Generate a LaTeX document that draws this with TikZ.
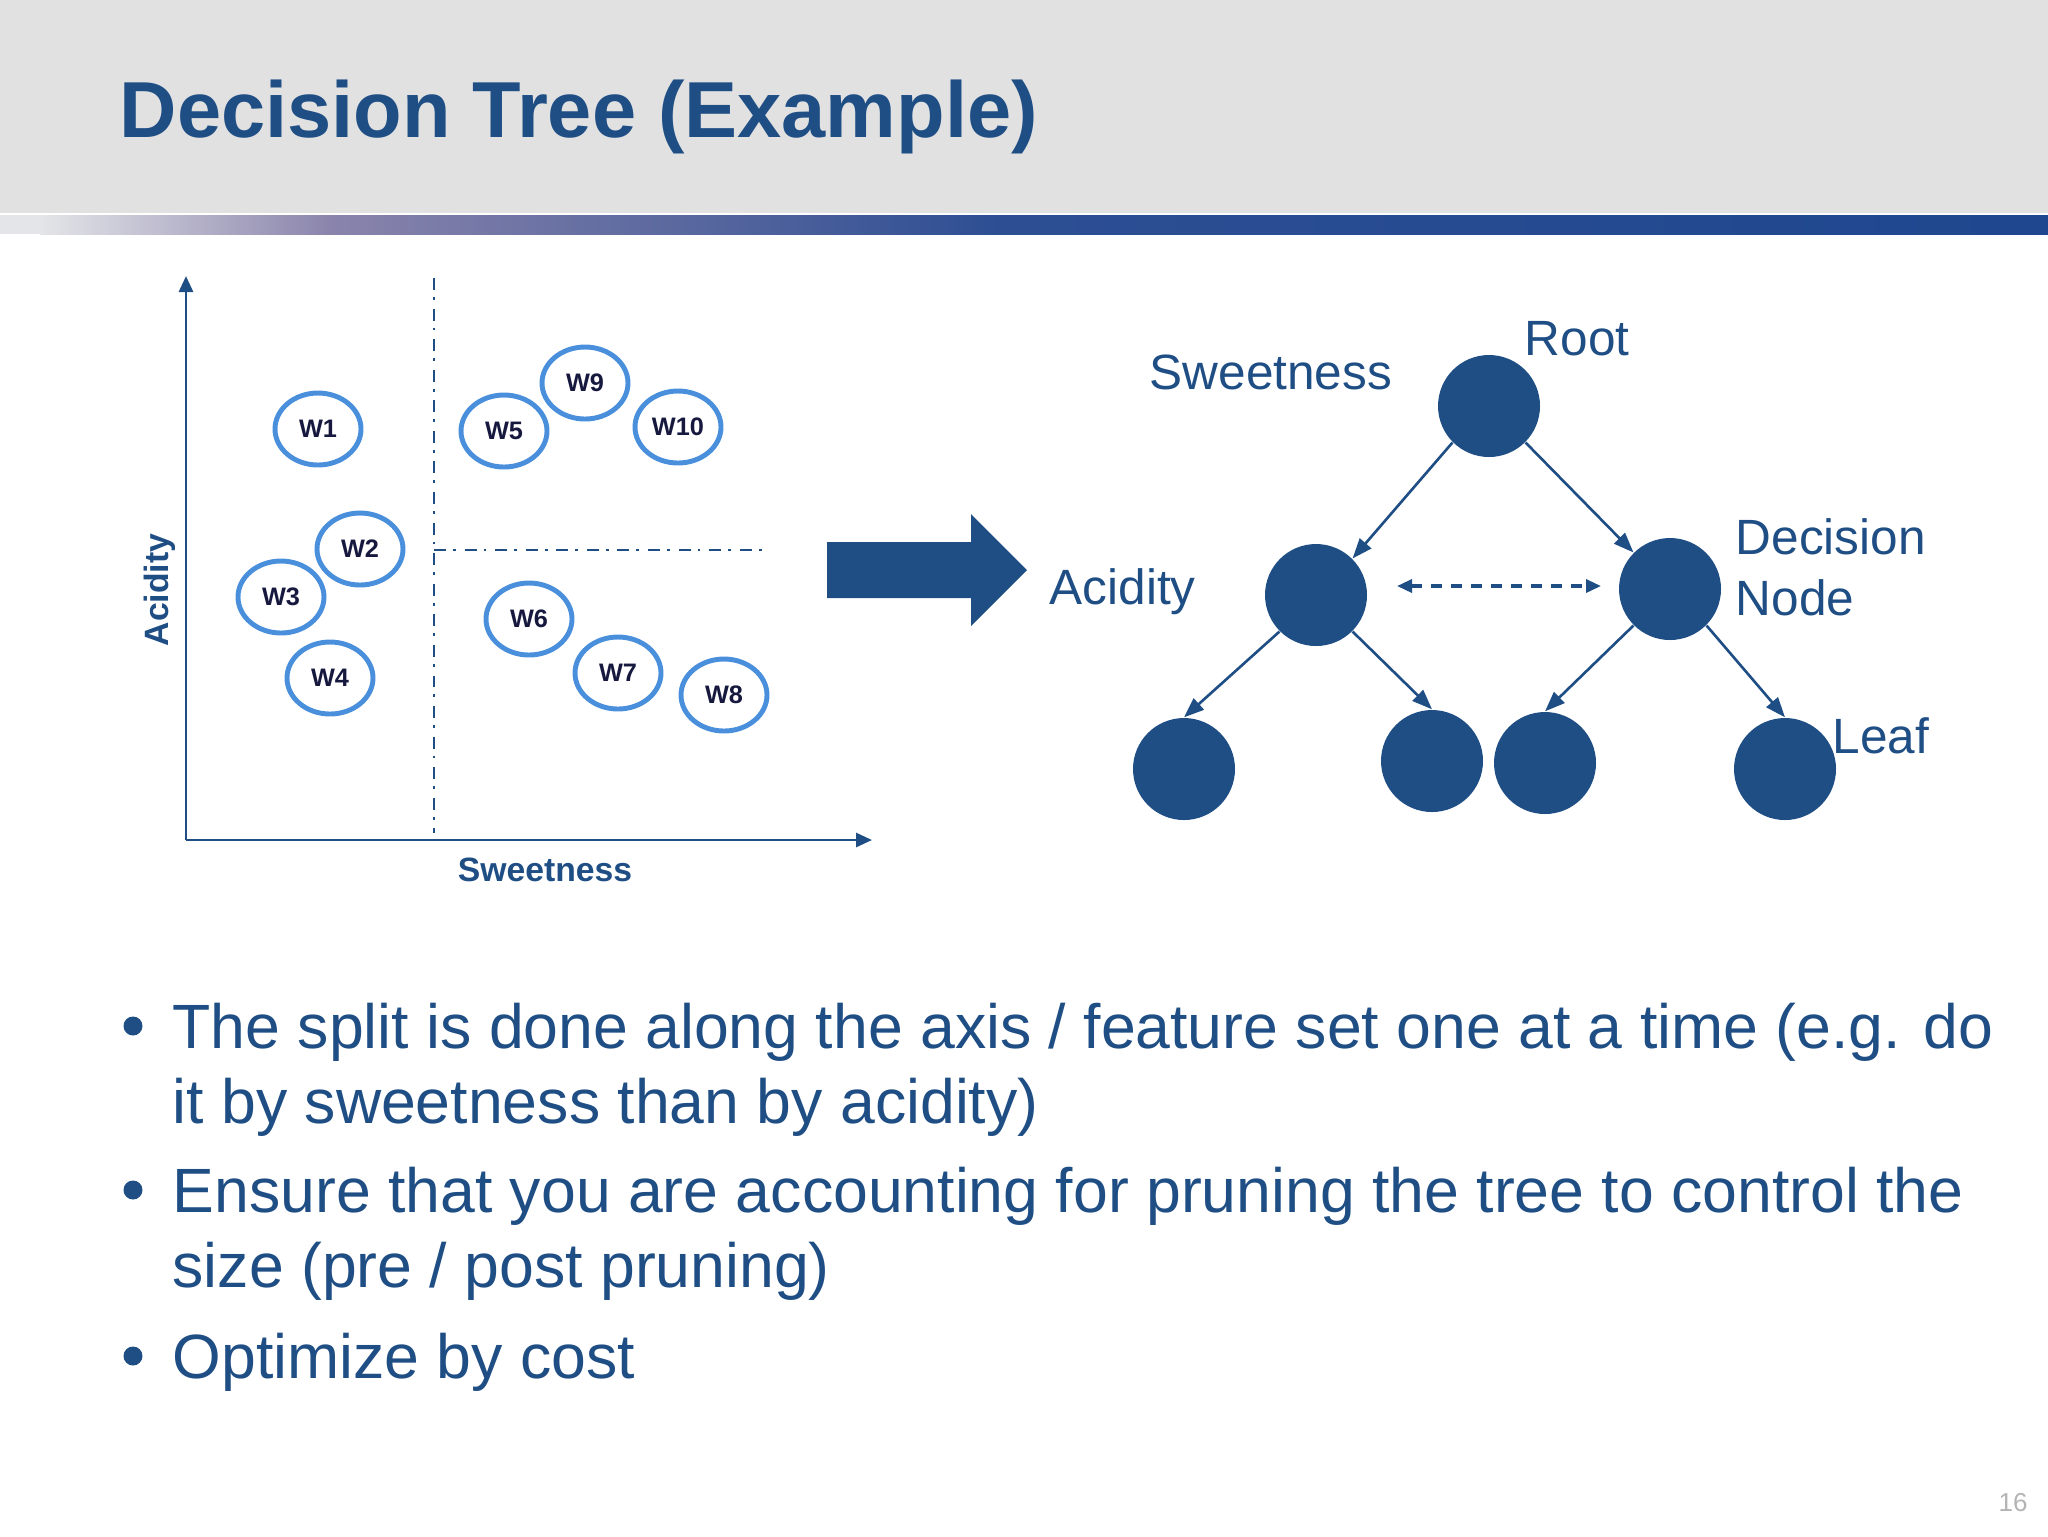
\documentclass[tikz,border=0pt]{standalone}
\usepackage{fontspec}
\setmainfont{Liberation Sans}
\usetikzlibrary{arrows.meta, positioning, shapes.geometric}

\definecolor{slideblue}{HTML}{1F4E85}
\definecolor{pointblue}{HTML}{4A8FDB}
\definecolor{headgray}{HTML}{E1E1E1}
\definecolor{labelnavy}{HTML}{16183E}
\definecolor{pagegray}{HTML}{B4B4B4}
\definecolor{barlight}{HTML}{E4E5E8}
\definecolor{barpurple}{HTML}{8A84AC}
\definecolor{barmid}{HTML}{2D4E93}
\definecolor{bardark}{HTML}{1E478F}

\begin{document}
\begin{tikzpicture}[
    % one unit = one pixel of the slide
    x=0.1mm, y=-0.1mm,
    wpoint/.style={ellipse, draw=pointblue, line width=1.4pt, minimum width=8.6mm,
        minimum height=7.2mm, inner sep=0pt, text=labelnavy,
        font=\bfseries\fontsize{7.2}{8}\selectfont},
    treenode/.style={circle, fill=slideblue, minimum size=10.2mm, inner sep=0pt},
    treelabel/.style={anchor=base west, inner sep=0pt, text=slideblue,
        font=\fontsize{14.1}{17}\selectfont},
    bulletline/.style={anchor=base west, inner sep=0pt, text=slideblue,
        font=\fontsize{17.8}{21}\selectfont},
    bulletdot/.style={circle, fill=slideblue, minimum size=1.9mm, inner sep=0pt},
    axislabel/.style={inner sep=0pt, text=slideblue,
        font=\bfseries\fontsize{9.6}{11}\selectfont},
    splitline/.style={slideblue, line width=0.6pt,
        dash pattern=on 3.4pt off 2pt on 0.8pt off 2.5pt},
    treearrow/.style={-{Triangle[length=2mm, width=1.5mm]}, slideblue, line width=0.75pt}
]
    \useasboundingbox (0,0) rectangle (2048,1536);

    % --- Header ---
    \fill[headgray] (0,0) rectangle (2048,213);
    \fill[barlight] (0,215) rectangle (41,234);
    \shade[left color=barlight, right color=barpurple] (40,215) rectangle (331,234);
    \shade[left color=barpurple, right color=barmid] (330,215) rectangle (1001,234);
    \shade[left color=barmid, right color=bardark] (1000,215) rectangle (2048,234);
    \node[anchor=base west, inner sep=0pt, text=slideblue,
        font=\bfseries\fontsize{22.6}{26}\selectfont] (title) at (119,137)
        {Decision Tree (Example)};

    % --- Scatter plot ---
    \coordinate (origin) at (186,840);
    \coordinate (ytop) at (186,276);
    \coordinate (xend) at (872,840);
    \draw[slideblue, line width=0.8pt, -{Triangle[length=1.6mm, width=1.4mm]}] (origin) -- (ytop);
    \draw[slideblue, line width=0.8pt, -{Triangle[length=1.6mm, width=1.4mm]}] (origin) -- (xend);
    \node[axislabel, anchor=base] (xlab) at (545,881) {Sweetness};
    \node[axislabel, anchor=base, rotate=90] (ylab) at (168,590) {Acidity};

    \coordinate (vtop) at (434,278);
    \coordinate (vbot) at (434,833);
    \coordinate (hleft) at (434,550);
    \coordinate (hright) at (768,550);
    \draw[splitline] (vtop) -- (vbot);
    \draw[splitline] (hleft) -- (hright);

    \foreach \nm/\px/\py in {W1/318/429, W2/360/549, W3/281/597, W4/330/678,
        W5/504/431, W9/585/383, W10/678/427, W6/529/619, W7/618/673, W8/724/695}
        \node[wpoint] (\nm) at (\px,\py) {\nm};

    % --- Big arrow ---
    \fill[slideblue] (827,542) -- (971,542) -- (971,514) -- (1027,570)
        -- (971,626) -- (971,598) -- (827,598) -- cycle;

    % --- Tree ---
    \node[treenode] (root) at (1489,406) {};
    \node[treenode] (nleft) at (1316,595) {};
    \node[treenode] (nright) at (1670,589) {};
    \node[treenode] (lf1) at (1184,769) {};
    \node[treenode] (lf2) at (1432,761) {};
    \node[treenode] (lf3) at (1545,763) {};
    \node[treenode] (lf4) at (1785,769) {};

    \draw[treearrow] (root.-135) -- (nleft.45);
    \draw[treearrow] (root.-45) -- (nright.135);
    \draw[treearrow] (nleft.-135) -- (lf1.north);
    \draw[treearrow] (nleft.-45) -- (lf2.north);
    \draw[treearrow] (nright.-135) -- (lf3.north);
    \draw[treearrow] (nright.-45) -- (lf4.north);

    \coordinate (dl) at (1397,586);
    \coordinate (dr) at (1601,586);
    \draw[slideblue, line width=0.95pt, dash pattern=on 3.1pt off 2.6pt,
        {Triangle[length=1.5mm, width=1.3mm]}-{Triangle[length=1.5mm, width=1.3mm]}] (dl) -- (dr);

    \node[treelabel] (lroot) at (1524,355) {Root};
    \node[treelabel] (lsweet) at (1149,389) {Sweetness};
    \node[treelabel] (lacid) at (1049,604) {Acidity};
    \node[treelabel] (ldec) at (1735,554) {Decision};
    \node[treelabel] (lnode) at (1735,615) {Node};
    \node[treelabel] (lleaf) at (1832,753) {Leaf};

    % --- Bullets ---
    \node[bulletdot] (d1) at (133,1026) {};
    \node[bulletdot] (d2) at (133,1190) {};
    \node[bulletdot] (d3) at (133,1356) {};
    \node[bulletline] (b1a) at (172,1048)
        {The split is done along the axis / feature set one at a time (e.g. do};
    \node[bulletline] (b1b) at (172,1123) {it by sweetness than by acidity)};
    \node[bulletline] (b2a) at (172,1212)
        {Ensure that you are accounting for pruning the tree to control the};
    \node[bulletline] (b2b) at (172,1287) {size (pre / post pruning)};
    \node[bulletline] (b3) at (172,1378) {Optimize by cost};

    % --- Page number ---
    \node[anchor=base west, inner sep=0pt, text=pagegray,
        font=\fontsize{7.4}{9}\selectfont] (pnum) at (1998,1511) {16};
\end{tikzpicture}
\end{document}
